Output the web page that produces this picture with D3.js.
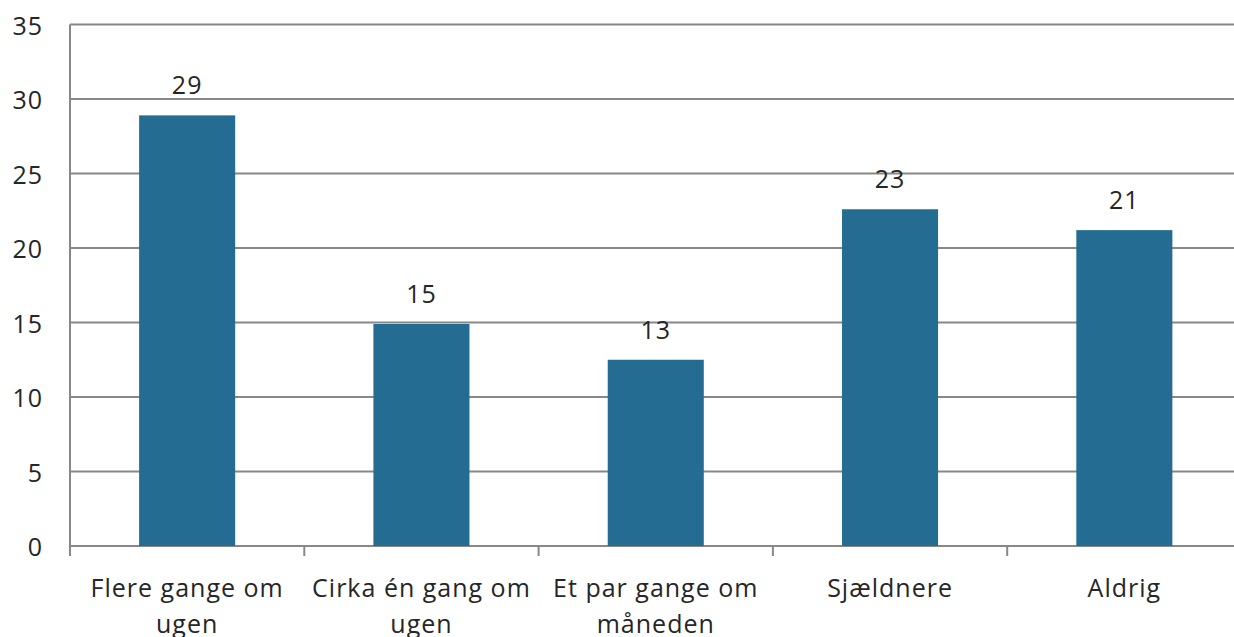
<!DOCTYPE html>
<html>
<head>
<meta charset="utf-8">
<script src="https://cdn.jsdelivr.net/npm/d3@7"></script>
<style>
  body { margin: 0; background: #fff; }
  svg text { font-family: "Open Sans", sans-serif; fill: #262626; }
</style>
</head>
<body>
<div id="chart"></div>
<script>
// data
var categories = ["Flere gange om ugen", "Cirka én gang om ugen", "Et par gange om måneden", "Sjældnere", "Aldrig"];
var categoryLines = [["Flere gange om", "ugen"], ["Cirka én gang om", "ugen"], ["Et par gange om", "måneden"], ["Sjældnere"], ["Aldrig"]];
var values = [28.9, 14.9, 12.5, 22.6, 21.2];
var yTicks = [0, 5, 10, 15, 20, 25, 30, 35];

var W = 1234, H = 637;
var margin = {top: 24.5, right: -7.5, bottom: 91, left: 70},
    width = W - margin.left - margin.right,
    height = H - margin.top - margin.bottom;

var svg = d3.select("#chart").append("svg")
    .attr("width", W)
    .attr("height", H)
  .append("g")
    .attr("transform", "translate(" + margin.left + "," + margin.top + ")");

var x = d3.scaleBand()
    .domain(categories)
    .range([0, width])
    .paddingInner(0.59)
    .paddingOuter(0.295);

var y = d3.scaleLinear()
    .domain([0, 35])
    .range([height, 0]);

// gridlines
svg.selectAll(".grid")
    .data(yTicks)
    .enter().append("line")
    .attr("class", "grid")
    .attr("x1", 0)
    .attr("x2", width)
    .attr("y1", function(d) { return y(d); })
    .attr("y2", function(d) { return y(d); })
    .attr("stroke", "#888")
    .attr("stroke-width", 2);

// left axis line
svg.append("line")
    .attr("x1", 0).attr("x2", 0)
    .attr("y1", 0).attr("y2", height + 10)
    .attr("stroke", "#888")
    .attr("stroke-width", 2);

// category separator ticks
var step = x.step();
svg.selectAll(".ctick")
    .data(categories.slice(1))
    .enter().append("line")
    .attr("class", "ctick")
    .attr("x1", function(d) { return x(d) - x.paddingInner() * step / 2; })
    .attr("x2", function(d) { return x(d) - x.paddingInner() * step / 2; })
    .attr("y1", height)
    .attr("y2", height + 10)
    .attr("stroke", "#888")
    .attr("stroke-width", 2);

// bars
svg.selectAll(".bar")
    .data(values)
    .enter().append("rect")
    .attr("class", "bar")
    .attr("x", function(d, i) { return x(categories[i]); })
    .attr("width", x.bandwidth())
    .attr("y", function(d) { return y(d); })
    .attr("height", function(d) { return height - y(d); })
    .attr("fill", "#246c91");

// value labels
svg.selectAll(".val")
    .data(values)
    .enter().append("text")
    .attr("class", "val")
    .attr("x", function(d, i) { return x(categories[i]) + x.bandwidth() / 2; })
    .attr("y", function(d) { return y(d) - 21; })
    .attr("text-anchor", "middle")
    .style("font-size", "25px")
    .style("letter-spacing", "1px")
    .text(function(d) { return Math.round(d); });

// y tick labels
svg.selectAll(".ylab")
    .data(yTicks)
    .enter().append("text")
    .attr("class", "ylab")
    .attr("x", -27)
    .attr("y", function(d) { return y(d); })
    .attr("dy", "0.4em")
    .attr("text-anchor", "end")
    .style("font-size", "25px")
    .style("letter-spacing", "1px")
    .text(function(d) { return d; });

// category labels
var cl = svg.selectAll(".clab")
    .data(categories)
    .enter().append("text")
    .attr("class", "clab")
    .attr("text-anchor", "middle")
    .attr("transform", function(d) { return "translate(" + (x(d) + x.bandwidth() / 2) + "," + (height + 51) + ")"; })
    .style("font-size", "25px")
    .style("letter-spacing", "1px");

cl.selectAll("tspan")
    .data(function(d, i) { return categoryLines[i]; })
    .enter().append("tspan")
    .attr("x", 0)
    .attr("y", function(d, j) { return j * 36; })
    .text(function(d) { return d; });
</script>
</body>
</html>
